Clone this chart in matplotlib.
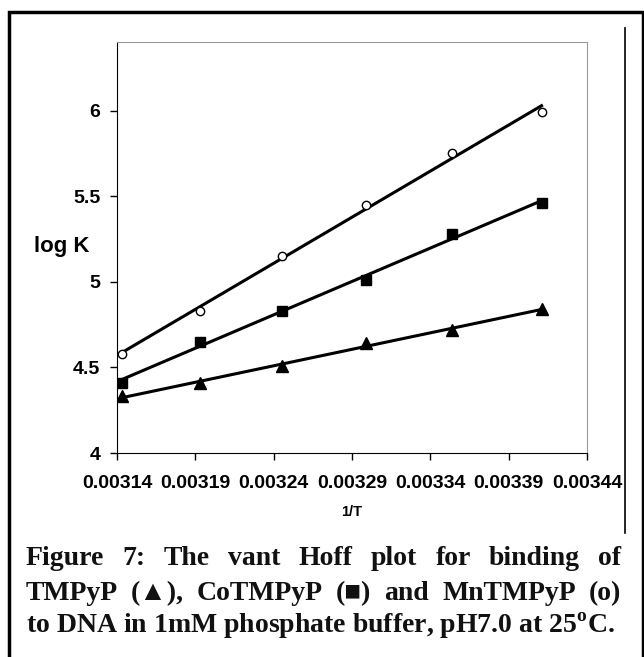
import numpy as np
import matplotlib.pyplot as plt
from matplotlib.patches import Rectangle
from matplotlib.lines import Line2D

# 1/T values and log K for the three porphyrins
inv_t = [0.003143, 0.003193, 0.003245, 0.003299, 0.003354, 0.003411]
logk_mn = [4.58, 4.83, 5.15, 5.45, 5.75, 5.99]   # MnTMPyP (o)
logk_co = [4.41, 4.65, 4.83, 5.01, 5.28, 5.46]   # CoTMPyP (square)
logk_tm = [4.33, 4.41, 4.51, 4.64, 4.72, 4.84]   # TMPyP (triangle)
xticks = [0.00314, 0.00319, 0.00324, 0.00329, 0.00334, 0.00339, 0.00344]
yticks = [4, 4.5, 5, 5.5, 6]

plt.rcParams['font.family'] = ['Liberation Sans', 'DejaVu Sans']
plt.rcParams['mathtext.fontset'] = 'custom'
plt.rcParams['mathtext.bf'] = 'Liberation Serif:bold'
plt.rcParams['mathtext.rm'] = 'Liberation Serif:bold'

fig = plt.figure(figsize=(6.44, 6.57), dpi=100)
W, H = 644, 657
ax = fig.add_axes([117 / W, 1 - 453 / H, 470 / W, 411 / H])

x = np.array(inv_t)
for ys, mk, ms, mfc in [(logk_mn, 'o', 6, 'white'),
                        (logk_co, 's', 7.5, 'black'),
                        (logk_tm, '^', 8.5, 'black')]:
    p = np.polyfit(x, ys, 1)
    ax.plot(x[[0, -1]], np.polyval(p, x[[0, -1]]), color='black', lw=2.2, zorder=2)
    ax.plot(x, ys, ls='none', marker=mk, ms=ms, mfc=mfc, mec='black', mew=1.0, zorder=3)

ax.set_xlim(0.00314, 0.00344)
ax.set_ylim(4, 6.4)
ax.set_xticks(xticks)
ax.set_xticklabels(['%.5f' % v for v in xticks], fontsize=14, fontweight='bold')
ax.set_yticks(yticks)
ax.set_yticklabels(['%g' % v for v in yticks], fontsize=14, fontweight='bold')
ax.tick_params(direction='out', length=5, width=1, color='black', pad=7)
ax.tick_params(axis='x', pad=11)
for s in ['top', 'right']:
    ax.spines[s].set_color('#999999')
for s in ['left', 'bottom']:
    ax.spines[s].set_color('black')

fig.text(62 / W, 1 - 247 / H, 'log K', fontsize=16, fontweight='bold', ha='center', va='center')
fig.text(352 / W, 1 - 512 / H, '1/T', fontsize=10.5, fontweight='bold', ha='center', va='center')

# outer frame and thin right rule
fig.add_artist(Rectangle((9 / W, -0.05), (W - 10.5) / W, 1 - 12 / H + 0.05, transform=fig.transFigure,
                         fill=False, ec='black', lw=2.5))
fig.add_artist(Line2D([625 / W, 625 / W], [1 - 28 / H, 1 - 533 / H], transform=fig.transFigure,
                      color='black', lw=1.2))

# caption, justified lines
cap_font = dict(family=['Liberation Serif', 'DejaVu Sans'], fontsize=20, fontweight='bold', color='#111111')
lines = [
    'Figure 7: The vant Hoff plot for binding of',
    'TMPyP (\u25B2), CoTMPyP (\u25A0) and MnTMPyP (o)',
]
left, right = 26, 621
fig.canvas.draw()
r = fig.canvas.get_renderer()
for i, line in enumerate(lines):
    ypix = 565 + 35 * i
    words = line.split(' ')
    tws = []
    for w in words:
        t = fig.text(0, 0, w, **cap_font)
        bb = t.get_window_extent(renderer=r)
        tws.append(bb.width)
        t.remove()
    gap = (right - left - sum(tws)) / (len(words) - 1)
    xpos = left
    for w, tw in zip(words, tws):
        fig.text(xpos / W, 1 - ypix / H, w, ha='left', va='baseline', **cap_font)
        xpos += tw + gap
fig.text(left / W, 1 - 633 / H, r'to DNA in 1mM phosphate buffer, pH7.0 at 25$^{\mathbf{o}}$C.',
         ha='left', va='baseline', **cap_font)

fig.savefig('out.png', dpi=100)
